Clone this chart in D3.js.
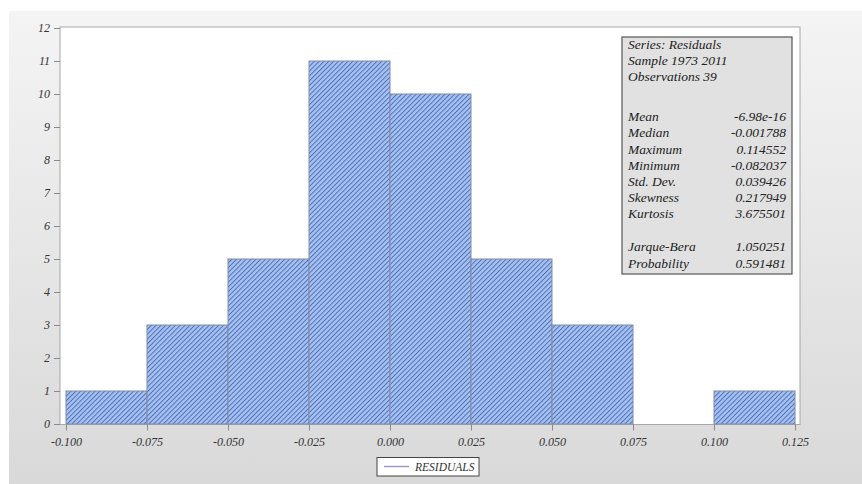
<!DOCTYPE html>
<html><head><meta charset="utf-8">
<script src="https://cdn.jsdelivr.net/npm/d3@7"></script>
<style>
html,body{margin:0;padding:0;background:#fff;}
svg{display:block;}
text{font-family:"Liberation Serif","DejaVu Serif",serif;font-style:italic;}
</style></head>
<body>
<script>
// ---- data ----
const binStarts = [-0.100, -0.075, -0.050, -0.025, 0.000, 0.025, 0.050, 0.075, 0.100];
const binWidth = 0.025;
const counts = [1, 3, 5, 11, 10, 5, 3, 0, 1];
const xTicks = [-0.100, -0.075, -0.050, -0.025, 0.000, 0.025, 0.050, 0.075, 0.100, 0.125];
const yTicks = [0,1,2,3,4,5,6,7,8,9,10,11,12];
const statHeader = ["Series: Residuals", "Sample 1973 2011", "Observations 39"];
const statNames = ["Mean", "Median", "Maximum", "Minimum", "Std. Dev.", "Skewness", "Kurtosis"];
const statValues = ["-6.98e-16", "-0.001788", "0.114552", "-0.082037", "0.039426", "0.217949", "3.675501"];
const testNames = ["Jarque-Bera", "Probability"];
const testValues = ["1.050251", "0.591481"];
const legendLabel = "RESIDUALS";

const W = 862, H = 484;
const svg = d3.select("body").append("svg").attr("width", W).attr("height", H);
const defs = svg.append("defs");

const grad = defs.append("linearGradient").attr("id","bg").attr("x1",0).attr("y1",0).attr("x2",0).attr("y2",1);
grad.append("stop").attr("offset","0%").attr("stop-color","#f4f4f4");
grad.append("stop").attr("offset","100%").attr("stop-color","#d9d9d9");

const pw = 3.4;
const pat = defs.append("pattern").attr("id","hatch").attr("patternUnits","userSpaceOnUse")
  .attr("width",pw).attr("height",8).attr("patternTransform","rotate(45)");
pat.append("rect").attr("width",pw).attr("height",8).attr("fill","#a3c1f4");
pat.append("line").attr("x1",0.5).attr("y1",0).attr("x2",0.5).attr("y2",8)
  .attr("stroke","#3b5697").attr("stroke-width",0.8);

svg.append("rect").attr("width",W).attr("height",H).attr("fill","#fff");
svg.append("rect").attr("x",9).attr("y",11).attr("width",W-9).attr("height",H-11).attr("fill","url(#bg)");

const x = d3.scaleLinear().domain([-0.100, 0.125]).range([66, 795]);
const y = d3.scaleLinear().domain([0, 12]).range([424, 28]);
const plotL = 60, plotR = 800, plotT = 27, plotB = 424.5;

svg.append("rect").attr("x",plotL).attr("y",plotT).attr("width",plotR-plotL).attr("height",plotB-plotT)
  .attr("fill","#fff").attr("stroke","#a8a8a8").attr("stroke-width",1);

// bars
svg.append("g").selectAll("rect").data(binStarts.map((s,i)=>({s, c:counts[i]})).filter(d=>d.c>0))
  .join("rect")
  .attr("x", d=>x(d.s)).attr("y", d=>y(d.c))
  .attr("width", d=>x(d.s+binWidth)-x(d.s)).attr("height", d=>y(0)-y(d.c))
  .attr("fill","url(#hatch)").attr("stroke","#808ba4").attr("stroke-width",1);

// axes
const fmt = d => d3.format(".3f")(d).replace("\u2212","-");
const xAxis = svg.append("g").attr("transform",`translate(0,${plotB})`)
  .call(d3.axisBottom(x).tickValues(xTicks).tickFormat(fmt).tickSize(6).tickSizeOuter(0));
const yAxis = svg.append("g").attr("transform",`translate(${plotL},0)`)
  .call(d3.axisLeft(y).tickValues(yTicks).tickFormat(d3.format("d")).tickSize(6).tickSizeOuter(0));
[xAxis,yAxis].forEach(a=>{
  a.select(".domain").remove();
  a.selectAll(".tick line").attr("stroke","#8a8a8a");
  a.selectAll(".tick text").attr("fill","#333").attr("font-size",12)
    .style("font-family","'Liberation Serif',serif").style("font-style","italic");
});
xAxis.selectAll(".tick text").attr("dy","1.0em");
yAxis.selectAll(".tick text").attr("x",-10);

// stats box
const bx = 622, by = 37, bw = 170, bh = 237;
svg.append("rect").attr("x",bx).attr("y",by).attr("width",bw).attr("height",bh)
  .attr("fill","#e1e1e1").attr("stroke","#555").attr("stroke-width",1.2);
const lh = 16.2;
const tg = svg.append("g").attr("font-size",13.5).attr("fill","#222");
statHeader.forEach((t,i)=>{
  tg.append("text").attr("x",bx+6).attr("y",by+7+i*lh).attr("dy","0.35em").text(t);
});
const r0 = by + 7 + 2*lh + 40;
statNames.forEach((t,i)=>{
  tg.append("text").attr("x",bx+6).attr("y",r0+i*lh).attr("dy","0.35em").text(t);
  tg.append("text").attr("x",bx+bw-6).attr("y",r0+i*lh).attr("dy","0.35em").attr("text-anchor","end").text(statValues[i]);
});
const r1 = r0 + 6*lh + 33;
testNames.forEach((t,i)=>{
  tg.append("text").attr("x",bx+6).attr("y",r1+i*lh).attr("dy","0.35em").text(t);
  tg.append("text").attr("x",bx+bw-6).attr("y",r1+i*lh).attr("dy","0.35em").attr("text-anchor","end").text(testValues[i]);
});

// legend
const lg = svg.append("g");
lg.append("rect").attr("x",377).attr("y",457.5).attr("width",102).attr("height",18.5)
  .attr("fill","#fff").attr("stroke","#444").attr("stroke-width",1);
lg.append("line").attr("x1",384).attr("x2",409).attr("y1",466.5).attr("y2",466.5)
  .attr("stroke","#a098c4").attr("stroke-width",1.5);
lg.append("text").attr("x",415).attr("y",466.5).attr("dy","0.35em").attr("font-size",11.5).attr("fill","#333").text(legendLabel);
</script>
</body></html>
